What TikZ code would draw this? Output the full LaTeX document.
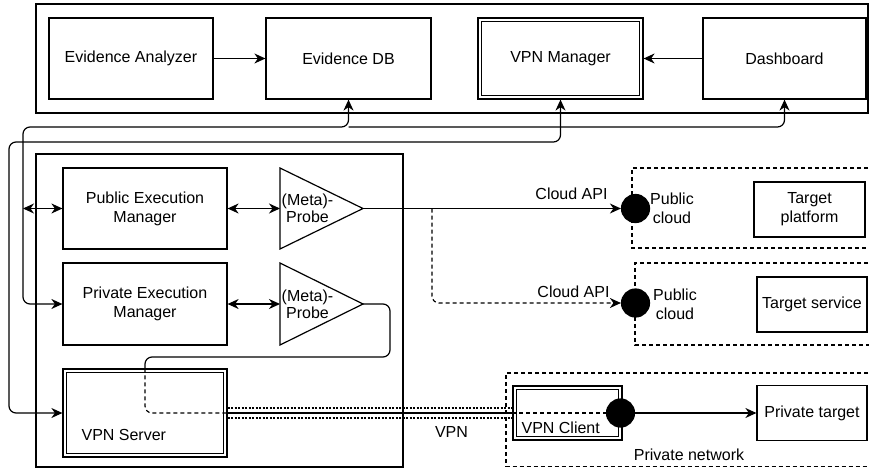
\documentclass[tikz,border=0pt]{standalone}
\usepackage{fontspec}
\setmainfont{Liberation Sans}
\usetikzlibrary{arrows.meta}
\begin{document}
\begin{tikzpicture}[x=1pt,y=-1pt,line width=1.2pt,
  every node/.style={font=\fontsize{16}{19}\selectfont},
  box/.style={draw, align=center, inner sep=2pt},
  innerline/.style={line width=1.1pt},
  blackdot/.style={circle, fill=black, draw=black, minimum size=28pt, inner sep=0pt},
  tip/.style={-{Stealth[length=11pt,width=10pt,inset=3.5pt]}},
  tips/.style={{Stealth[length=11pt,width=10pt,inset=3.5pt]}-{Stealth[length=11pt,width=10pt,inset=3.5pt]}},
  dsh/.style={dash pattern=on 4pt off 3pt},
  tunnel/.style={line width=2pt, dash pattern=on 2pt off 1.5pt},
  lbl/.style={inner sep=0pt, align=center}]
\useasboundingbox (0,0) rectangle (869,468);

% containers
\draw (36,4) rectangle (868,113);
\draw (36,154) rectangle (403,467);
\draw[dsh] (875,168) -- (632,168) -- (632,248) -- (875,248);
\draw[dsh] (875,263) -- (635,263) -- (635,345) -- (875,345);
\draw[dsh] (875,373) -- (506,373) -- (506,466.5) -- (875,466.5);

% top row
\node[box, minimum width=164, minimum height=81] (ea) at (131,58.5) {Evidence Analyzer};
\node[box, minimum width=165, minimum height=81] (db) at (348.5,58.5) {Evidence DB};
\node[box, minimum width=165, minimum height=81] (vm) at (560.5,58.5) {VPN Manager};
\draw[innerline] ([xshift=4pt,yshift=-4pt]vm.north west) rectangle ([xshift=-4pt,yshift=4pt]vm.south east);
\node[box, minimum width=163, minimum height=81] (dash) at (784.5,58.5) {Dashboard};

% execution side
\node[box, minimum width=164, minimum height=81] (pem) at (145,208.5) {Public Execution\\Manager};
\node[box, minimum width=164, minimum height=82] (prem) at (145,304) {Private Execution\\Manager};
\node[box, minimum width=164, minimum height=88] (vs) at (145,413) {};
\draw[innerline] ([xshift=4pt,yshift=-4pt]vs.north west) rectangle ([xshift=-4pt,yshift=4pt]vs.south east);
\node[lbl, anchor=base west] (vsl) at (81,440) {VPN Server};

% probes
\draw (280,168) -- (363,208.5) -- (280,249) -- cycle;
\coordinate (p1w) at (280,208.5);
\coordinate (p1t) at (363,208.5);
\node[lbl, font=\fontsize{16}{17}\selectfont] (p1l) at (307.5,208.5) {(Meta)-\\Probe};
\draw (280,263) -- (363,304) -- (280,345) -- cycle;
\coordinate (p2w) at (280,304);
\coordinate (p2t) at (363,304);
\node[lbl, font=\fontsize{16}{17}\selectfont] (p2l) at (307.5,304) {(Meta)-\\Probe};

% targets
\node[box, minimum width=111, minimum height=55] (tp) at (809.5,209.5) {Target\\platform};
\node[box, minimum width=110, minimum height=55] (ts) at (812,304.5) {Target service};
\node[box, minimum width=110, minimum height=55] (pt) at (812,413) {Private target};

% VPN client and dots
\node[box, minimum width=109, minimum height=54] (vc) at (567.5,413) {};
\draw[innerline] ([xshift=4pt,yshift=-4pt]vc.north west) rectangle ([xshift=-4pt,yshift=4pt]vc.south east);
\node[lbl, anchor=base west] (vcl) at (521,433) {VPN Client};
\node[blackdot] (c1) at (635.5,208.5) {};
\node[blackdot] (c2) at (635.5,303) {};
\node[blackdot] (c3) at (620.5,413) {};

% labels
\node[lbl, anchor=base] (api1) at (571.5,199) {Cloud API};
\node[lbl, anchor=base] (api2) at (573.5,297) {Cloud API};
\node[lbl] (pc1) at (672,208) {Public\\cloud};
\node[lbl] (pc2) at (675,304) {Public\\cloud};
\node[lbl, anchor=base] (pn) at (689,460) {Private network};
\node[lbl, anchor=base] (vpnl) at (451.5,437) {VPN};

% top connectors
\draw[tip] (ea) -- (db);
\draw[tip] (dash) -- (vm);

% management loops
\coordinate (k1) at (23,127);
\coordinate (k2) at (9,142);
\draw[tips, rounded corners=7pt] (db.south) -- (db.south |- k1) -- (k1) -- (k1 |- prem.west) -- (prem.west);
\draw[tip, rounded corners=7pt] (db.south |- k1) -- (dash.south |- k1) -- (dash.south);
\draw[tips] (k1 |- pem.west) -- (pem.west);
\draw[tips, rounded corners=7pt] (vm.south) -- (vm.south |- k2) -- (k2) -- (k2 |- vs.west) -- (vs.west);

% probe links
\draw[tips] (pem.east) -- (p1w);
\draw[tips] (prem.east) -- (p2w);
\draw[tip] (p1t) -- (c1.west);
\coordinate (br) at (432,208.5);
\draw[tip, dsh, rounded corners=7pt] (br) -- (br |- c2.west) -- (c2.west);

% private probe to VPN client
\coordinate (q1) at (390,304);
\coordinate (q2) at (390,357);
\coordinate (q3) at (145,357);
\draw[rounded corners=7pt] (p2t) -- (q1) -- (q2) -- (q3) -- (q3 |- vs.north);
\draw[dsh, rounded corners=7pt] (q3 |- vs.north) -- (q3 |- vs.east) -- (vs.east);
\draw (vs.east) -- (vc.west);
\draw[dsh] (vc.west) -- (c3.west);
\draw[tunnel] ([yshift=5.5pt]vs.east) -- ([yshift=5.5pt]vc.west);
\draw[tunnel] ([yshift=-5pt]vs.east) -- ([yshift=-5pt]vc.west);
\draw[tip] (c3.east) -- (pt.west);
\end{tikzpicture}
\end{document}
